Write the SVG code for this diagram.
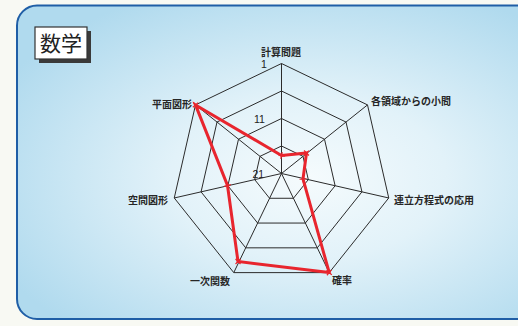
<svg xmlns="http://www.w3.org/2000/svg" width="518" height="326" viewBox="0 0 518 326">
<style>
.lbl{font-family:"Noto Sans CJK JP","Noto Sans CJK SC",sans-serif;font-size:10px;font-weight:bold;fill:#262626;}
.num{font-family:"Liberation Sans",Arial,sans-serif;font-size:10.5px;fill:#222;}
.grid{fill:none;stroke:#2b2b2b;stroke-width:1;}
.data{fill:none;stroke:#e8252e;stroke-width:3;stroke-linejoin:miter;}
</style>
<defs>
<radialGradient id="bg" cx="0.55" cy="0.55" r="0.65">
<stop offset="0" stop-color="#f5fbfd"/>
<stop offset="0.4" stop-color="#e2f2f9"/>
<stop offset="1" stop-color="#b0daee"/>
</radialGradient>
<marker id="tick" viewBox="-4 -4 8 8" markerWidth="8" markerHeight="8" markerUnits="userSpaceOnUse" refX="0" refY="0" orient="auto">
<path d="M-3.5 0H3.5M0 -3.5V3.5" stroke="#e8252e" stroke-width="1.2"/>
</marker>
</defs>
<rect x="0" y="0" width="518" height="326" fill="#f8f9f3"/>
<g id="panel">
<rect x="17" y="5.5" width="530" height="313.5" rx="20" ry="20" fill="url(#bg)" stroke="#1f5ea6" stroke-width="2"/>
</g>
<g id="title">
<rect x="39" y="31" width="52" height="32" fill="#3a3a3a"/>
<rect x="35" y="27" width="52" height="32" fill="#ffffff" stroke="#333" stroke-width="1.2"/>
<text x="61" y="51" text-anchor="middle" style="font-family:'Noto Sans CJK JP','Noto Sans CJK SC',sans-serif;font-size:21px;fill:#222;">数学</text>
</g>
<g id="grid">
<polygon class="grid" points="281.5,63.5 367.5,104.9 388.74,197.98 329.23,272.61 233.77,272.61 174.26,197.98 195.5,104.9"/>
<polygon class="grid" points="281.5,91 346,122.06 361.93,191.86 317.3,247.83 245.7,247.83 201.07,191.86 217,122.06"/>
<polygon class="grid" points="281.5,118.5 324.5,139.21 335.12,185.74 305.36,223.05 257.64,223.05 227.88,185.74 238.5,139.21"/>
<polygon class="grid" points="281.5,146 303,156.35 308.31,179.62 293.43,198.28 269.57,198.28 254.69,179.62 260,156.35"/>
<path class="grid" d="M281.5 173.5L281.5 63.5M281.5 173.5L367.5 104.9M281.5 173.5L388.74 197.98M281.5 173.5L329.23 272.61M281.5 173.5L233.77 272.61M281.5 173.5L174.26 197.98M281.5 173.5L195.5 104.9"/>
</g>
<g id="scale">
<text class="num" x="261" y="67.5">1</text>
<text class="num" x="254" y="123">11</text>
<text class="num" x="252.5" y="178">21</text>
</g>
<g id="axis-labels">
<text class="lbl" x="281" y="56" text-anchor="middle">計算問題</text>
<text class="lbl" x="371" y="105">各領域からの小問</text>
<text class="lbl" x="394" y="204">連立方程式の応用</text>
<text class="lbl" x="332" y="283.5">確率</text>
<text class="lbl" x="230" y="284.5" text-anchor="end">一次関数</text>
<text class="lbl" x="168" y="204" text-anchor="end">空間図形</text>
<text class="lbl" x="192" y="107.5" text-anchor="end">平面図形</text>
</g>
<g id="series">
<polygon class="data" points="281.5,155.5 306.5,153 303,179 329.2,272.6 238,261.5 227.5,185.5 195.5,104.9" marker-start="url(#tick)" marker-mid="url(#tick)"/>
</g>
</svg>
